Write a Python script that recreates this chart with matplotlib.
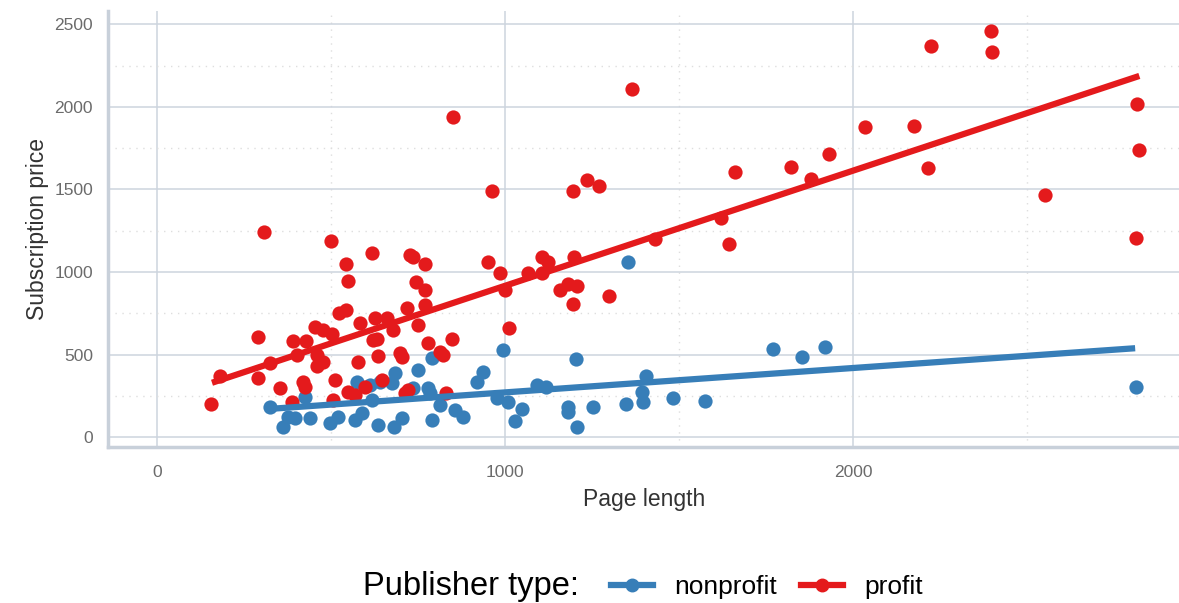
import matplotlib
matplotlib.use("Agg")
import matplotlib.pyplot as plt
from matplotlib.lines import Line2D
from matplotlib.ticker import MultipleLocator

plt.rcParams['font.family'] = ['Liberation Sans', 'DejaVu Sans']

# ---- data ----
nonprofit_pages = [325, 362, 376, 397, 425, 440, 497, 520, 569, 589, 575, 612, 618, 635,
                   641, 675, 684, 681, 704, 750, 790, 736, 779, 785, 813, 856, 879, 790,
                   920, 937, 994, 977, 1009, 1029, 1049, 1092, 1118, 1181, 1181, 1207,
                   1204, 1253, 1348, 1354, 1405, 1394, 1397, 1483, 1575, 1770, 1854,
                   1920, 2813]
nonprofit_price = [183, 62, 123, 117, 244, 117, 87, 123, 105, 147, 335, 317, 226, 74,
                   335, 329, 389, 62, 117, 407, 480, 298, 298, 268, 196, 165, 123, 105,
                   335, 395, 528, 238, 214, 99, 171, 317, 304, 183, 153, 62,
                   474, 183, 202, 1061, 371, 274, 214, 238, 220, 534, 486,
                   547, 305]

profit_pages = [155, 181, 308, 290, 290, 325, 353, 388, 391, 402, 428, 420, 425, 454,
                460, 460, 477, 477, 503, 500, 512, 506, 523, 543, 543, 549, 583, 578,
                549, 569, 598, 618, 621, 632, 627, 661, 678, 635, 647, 698, 704, 713,
                721, 727, 736, 718, 750, 770, 770, 744, 770, 779, 813, 822, 848, 831,
                851, 963, 951, 986, 1000, 1012, 1066, 1106, 1124, 1106, 1196, 1236,
                1270, 1198, 1158, 1181, 1207, 1196, 1299, 1365, 1431, 1621, 1644,
                1661, 1822, 1879, 1931, 2035, 2175, 2216, 2224, 2397, 2400, 2552,
                2816, 2822, 2813]
profit_price = [202, 371, 1243, 607, 359, 450, 298, 214, 583, 498, 583, 335, 304, 668,
                498, 432, 650, 456, 625, 1188, 347, 226, 752, 771, 1049, 946, 692, 456,
                274, 256, 304, 1116, 589, 595, 722, 722, 650, 492, 347, 510, 486, 268,
                286, 1103, 1091, 783, 680, 801, 1049, 940, 892, 571, 516, 498, 595, 268,
                1939, 1491, 1061, 995, 892, 662, 995, 1091, 1061, 995, 1491, 1557,
                1521, 1091, 892, 928, 916, 807, 855, 2108, 1200, 1327, 1170,
                1606, 1636, 1564, 1715, 1878, 1884, 1630, 2369, 2459, 2332, 1467,
                2017, 1739, 1206]

# fitted trend lines (end points)
nonprofit_fit_x = [325, 2811]
nonprofit_fit_y = [172, 539]
profit_fit_x = [158, 2823]
profit_fit_y = [330, 2187]

blue = '#377EB8'
red = '#E41A1C'

W, H = 1179, 603
fig = plt.figure(figsize=(W / 100, H / 100), dpi=100)
ax = fig.add_axes([108.3 / W, 1 - 446.7 / H, (W - 108.3) / W, (446.7 - 11) / H])

ax.scatter(nonprofit_pages, nonprofit_price, s=105, color=blue, linewidths=0, zorder=3)
ax.scatter(profit_pages, profit_price, s=105, color=red, linewidths=0, zorder=3)
ax.plot(nonprofit_fit_x, nonprofit_fit_y, color=blue, lw=4.5, solid_capstyle='butt', zorder=4)
ax.plot(profit_fit_x, profit_fit_y, color=red, lw=4.5, solid_capstyle='butt', zorder=4)

ax.set_xlim(-140, 2937)
ax.set_ylim(-57, 2580)

ax.xaxis.set_major_locator(MultipleLocator(1000))
ax.xaxis.set_minor_locator(MultipleLocator(500))
ax.yaxis.set_major_locator(MultipleLocator(500))
ax.yaxis.set_minor_locator(MultipleLocator(250))
ax.grid(which='major', color='#cdd4de', lw=1.1, zorder=0)
ax.grid(which='minor', color='#dedede', lw=1.0, ls=(0, (1, 4)), zorder=0)
ax.set_axisbelow(True)

for s in ['top', 'right']:
    ax.spines[s].set_visible(False)
for s in ['left', 'bottom']:
    ax.spines[s].set_color('#c8d0da')
    ax.spines[s].set_linewidth(2.5)

ax.tick_params(which='both', length=0)
ax.tick_params(axis='y', pad=11, labelsize=12.5, labelcolor='#6b6b6b')
ax.tick_params(axis='x', pad=13, labelsize=12.5, labelcolor='#6b6b6b')

ax.set_xlabel('Page length', fontsize=16.5, color='#333333', labelpad=6)
ax.set_ylabel('Subscription price', fontsize=16.5, color='#333333', labelpad=4)

# legend
fig.text(363 / W, 1 - 587 / H, 'Publisher type:', fontsize=23.5, color='black',
         ha='left', va='center')
handles = [Line2D([], [], color=blue, lw=4.5, marker='o', markersize=9),
           Line2D([], [], color=red, lw=4.5, marker='o', markersize=9)]
fig.legend(handles, ['nonprofit', 'profit'], loc='center left',
           bbox_to_anchor=(611 / W, 1 - 587 / H), ncol=2, frameon=False,
           fontsize=19, handlelength=1.6, handletextpad=0.8, columnspacing=0.9,
           borderpad=0, borderaxespad=0, numpoints=1)

fig.savefig('out.png', dpi=100)
